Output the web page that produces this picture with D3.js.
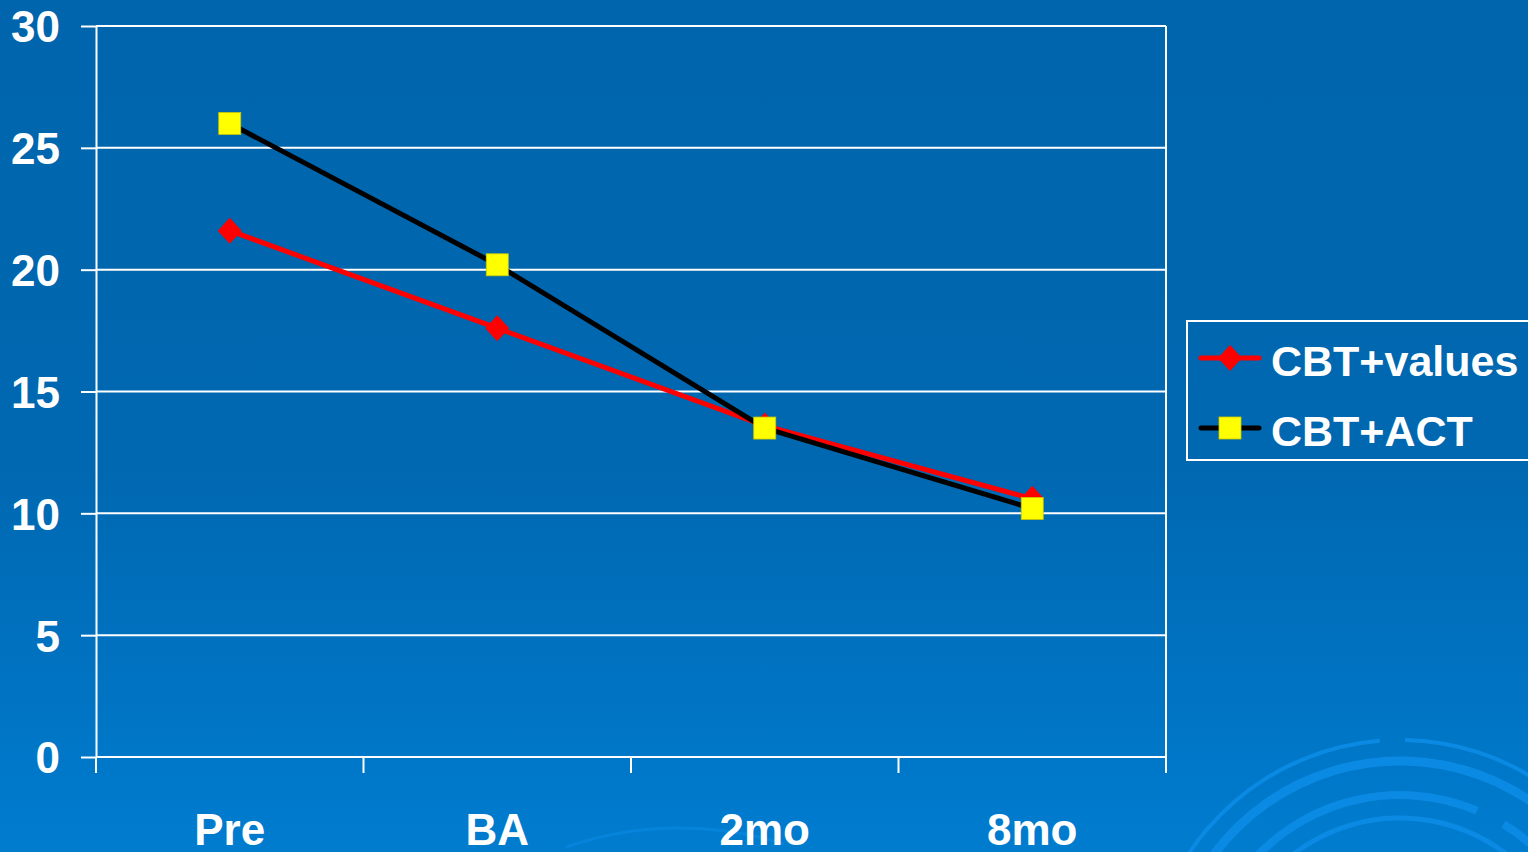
<!DOCTYPE html>
<html>
<head>
<meta charset="utf-8">
<script src="https://cdn.jsdelivr.net/npm/d3@7"></script>
<style>
  html, body { margin: 0; padding: 0; overflow: hidden; background: #0066ad; }
  svg { display: block; }
  text { font-family: "Liberation Sans", Arial, sans-serif; font-weight: bold; fill: #ffffff; }
</style>
</head>
<body>
<svg id="chart" width="1528" height="852"></svg>
<script>
// Time points and mean scores per treatment group
const categories = ["Pre", "BA", "2mo", "8mo"];
const cbtValues = [21.6, 17.6, 13.6, 10.6];
const cbtAct = [26.0, 20.2, 13.5, 10.2];
const yTicks = [0, 5, 10, 15, 20, 25, 30];
const seriesNames = ["CBT+values", "CBT+ACT"];

const W = 1528, H = 852;
const plot = { left: 96, right: 1166, top: 26, bottom: 757 };

const svg = d3.select("#chart");

// Slide-style blue background with a soft vertical gradient
const defs = svg.append("defs");
const grad = defs.append("linearGradient")
  .attr("id", "bg").attr("x1", 0).attr("y1", 0).attr("x2", 0).attr("y2", 1);
grad.append("stop").attr("offset", "0").attr("stop-color", "#0065ac");
grad.append("stop").attr("offset", "0.55").attr("stop-color", "#0068b1");
grad.append("stop").attr("offset", "1").attr("stop-color", "#007ccf");
svg.append("rect").attr("width", W).attr("height", H).attr("fill", "url(#bg)");

// Decorative concentric swirl in the lower right corner
const swirl = svg.append("g").attr("transform", "translate(1400,993)");
const rings = [
  { r: 253, w: 4, a0: -1.35, a1: -0.08 },
  { r: 253, w: 4, a0: 0.02, a1: 1.2 },
  { r: 232, w: 9, a0: -1.25, a1: 1.3 },
  { r: 198, w: 8, a0: -0.95, a1: 0.4 },
  { r: 198, w: 8, a0: 0.55, a1: 1.2 },
  { r: 178, w: 6, a0: -1.3, a1: -1.05 },
  { r: 175, w: 5, a0: -0.8, a1: 0.95 },
  { r: 150, w: 7, a0: -1.4, a1: -1.1 },
  { r: 150, w: 7, a0: 0.95, a1: 1.3 },
  { r: 125, w: 22, a0: -1.0, a1: 1.0 }
];
rings.forEach(d => {
  swirl.append("path")
    .attr("d", d3.arc()({ innerRadius: d.r - d.w / 2, outerRadius: d.r + d.w / 2, startAngle: d.a0, endAngle: d.a1 }))
    .attr("fill", "#0b8ae4");
});
// faint arcs near the bottom centre
const swirl2 = svg.append("g").attr("transform", "translate(680,1180)");
[{ r: 352, w: 3, a0: -0.33, a1: 0.3 }, { r: 340, w: 3, a0: -0.45, a1: -0.36 }].forEach(d => {
  swirl2.append("path")
    .attr("d", d3.arc()({ innerRadius: d.r - d.w / 2, outerRadius: d.r + d.w / 2, startAngle: d.a0, endAngle: d.a1 }))
    .attr("fill", "#0a8ae6").attr("opacity", 0.6);
});

// Scales
const x = d3.scaleBand().domain(categories).range([plot.left, plot.right]).padding(0);
const y = d3.scaleLinear().domain([0, 30]).range([plot.bottom, plot.top]);
const cx = c => x(c) + x.bandwidth() / 2;

// Horizontal gridlines
svg.append("g").selectAll("line").data(yTicks.filter(t => t > 0)).join("line")
  .attr("x1", plot.left).attr("x2", plot.right)
  .attr("y1", d => y(d)).attr("y2", d => y(d))
  .attr("stroke", "#ffffff").attr("stroke-width", 2);

// Right border of the plot area
svg.append("line")
  .attr("x1", plot.right).attr("x2", plot.right)
  .attr("y1", plot.top).attr("y2", plot.bottom)
  .attr("stroke", "#ffffff").attr("stroke-width", 2);

// Y axis
const yAxis = svg.append("g").attr("transform", `translate(${plot.left},0)`)
  .call(d3.axisLeft(y).tickValues(yTicks).tickSize(15).tickPadding(22).tickSizeOuter(0));
yAxis.select(".domain").attr("stroke", "#ffffff").attr("stroke-width", 2);
yAxis.selectAll(".tick line").attr("stroke", "#ffffff").attr("stroke-width", 2);
yAxis.selectAll(".tick text")
  .attr("font-size", 44).attr("font-family", "'Liberation Sans', Arial, sans-serif")
  .attr("font-weight", "bold").attr("fill", "#ffffff")
  .attr("x", -36).attr("dy", "0.36em");

// X axis: ticks sit on the category boundaries
const bounds = categories.map(c => x(c)).concat([plot.right]);
const xAxisG = svg.append("g");
xAxisG.append("line")
  .attr("x1", plot.left).attr("x2", plot.right)
  .attr("y1", plot.bottom).attr("y2", plot.bottom)
  .attr("stroke", "#ffffff").attr("stroke-width", 2);
xAxisG.selectAll("line.tk").data(bounds).join("line").attr("class", "tk")
  .attr("x1", d => d).attr("x2", d => d)
  .attr("y1", plot.bottom).attr("y2", plot.bottom + 16)
  .attr("stroke", "#ffffff").attr("stroke-width", 2);
xAxisG.selectAll("text").data(categories).join("text")
  .attr("x", d => cx(d)).attr("y", 845)
  .attr("text-anchor", "middle").attr("font-size", 44)
  .text(d => d);

// Series lines
const line = d3.line().x((d, i) => cx(categories[i])).y(d => y(d));

// Diamond marker, 24 wide by 26 tall
const diamondPath = "M0,-13L12,0L0,13L-12,0Z";

// CBT+values (red, diamonds)
svg.append("path").datum(cbtValues)
  .attr("d", line).attr("fill", "none")
  .attr("stroke", "#ff0000").attr("stroke-width", 5).attr("stroke-linejoin", "round");
svg.append("g").selectAll("path").data(cbtValues).join("path")
  .attr("d", diamondPath)
  .attr("transform", (d, i) => `translate(${cx(categories[i])},${y(d)})`)
  .attr("fill", "#ff0000");

// CBT+ACT (black, yellow squares)
svg.append("path").datum(cbtAct)
  .attr("d", line).attr("fill", "none")
  .attr("stroke", "#000000").attr("stroke-width", 5).attr("stroke-linejoin", "round");
const sq = 22;
svg.append("g").selectAll("rect").data(cbtAct).join("rect")
  .attr("x", (d, i) => cx(categories[i]) - sq / 2)
  .attr("y", d => y(d) - sq / 2)
  .attr("width", sq).attr("height", sq)
  .attr("fill", "#ffff00").attr("stroke", "#c8c800").attr("stroke-width", 0.8);

// Legend
const lg = svg.append("g");
lg.append("rect")
  .attr("x", 1187).attr("y", 321).attr("width", 360).attr("height", 139)
  .attr("fill", "none").attr("stroke", "#ffffff").attr("stroke-width", 2);

const legendRows = [
  { name: seriesNames[0], color: "#ff0000", y: 358, marker: "diamond" },
  { name: seriesNames[1], color: "#000000", y: 428, marker: "square" }
];
legendRows.forEach(r => {
  lg.append("line")
    .attr("x1", 1201).attr("x2", 1259).attr("y1", r.y).attr("y2", r.y)
    .attr("stroke", r.color).attr("stroke-width", 5).attr("stroke-linecap", "round");
  if (r.marker === "diamond") {
    lg.append("path").attr("d", diamondPath)
      .attr("transform", `translate(1230,${r.y})`).attr("fill", "#ff0000");
  } else {
    lg.append("rect").attr("x", 1230 - sq / 2).attr("y", r.y - sq / 2)
      .attr("width", sq).attr("height", sq)
      .attr("fill", "#ffff00").attr("stroke", "#c8c800").attr("stroke-width", 0.8);
  }
  lg.append("text").attr("x", 1271).attr("y", r.y + 18)
    .attr("font-size", 43).text(r.name);
});
</script>
</body>
</html>
